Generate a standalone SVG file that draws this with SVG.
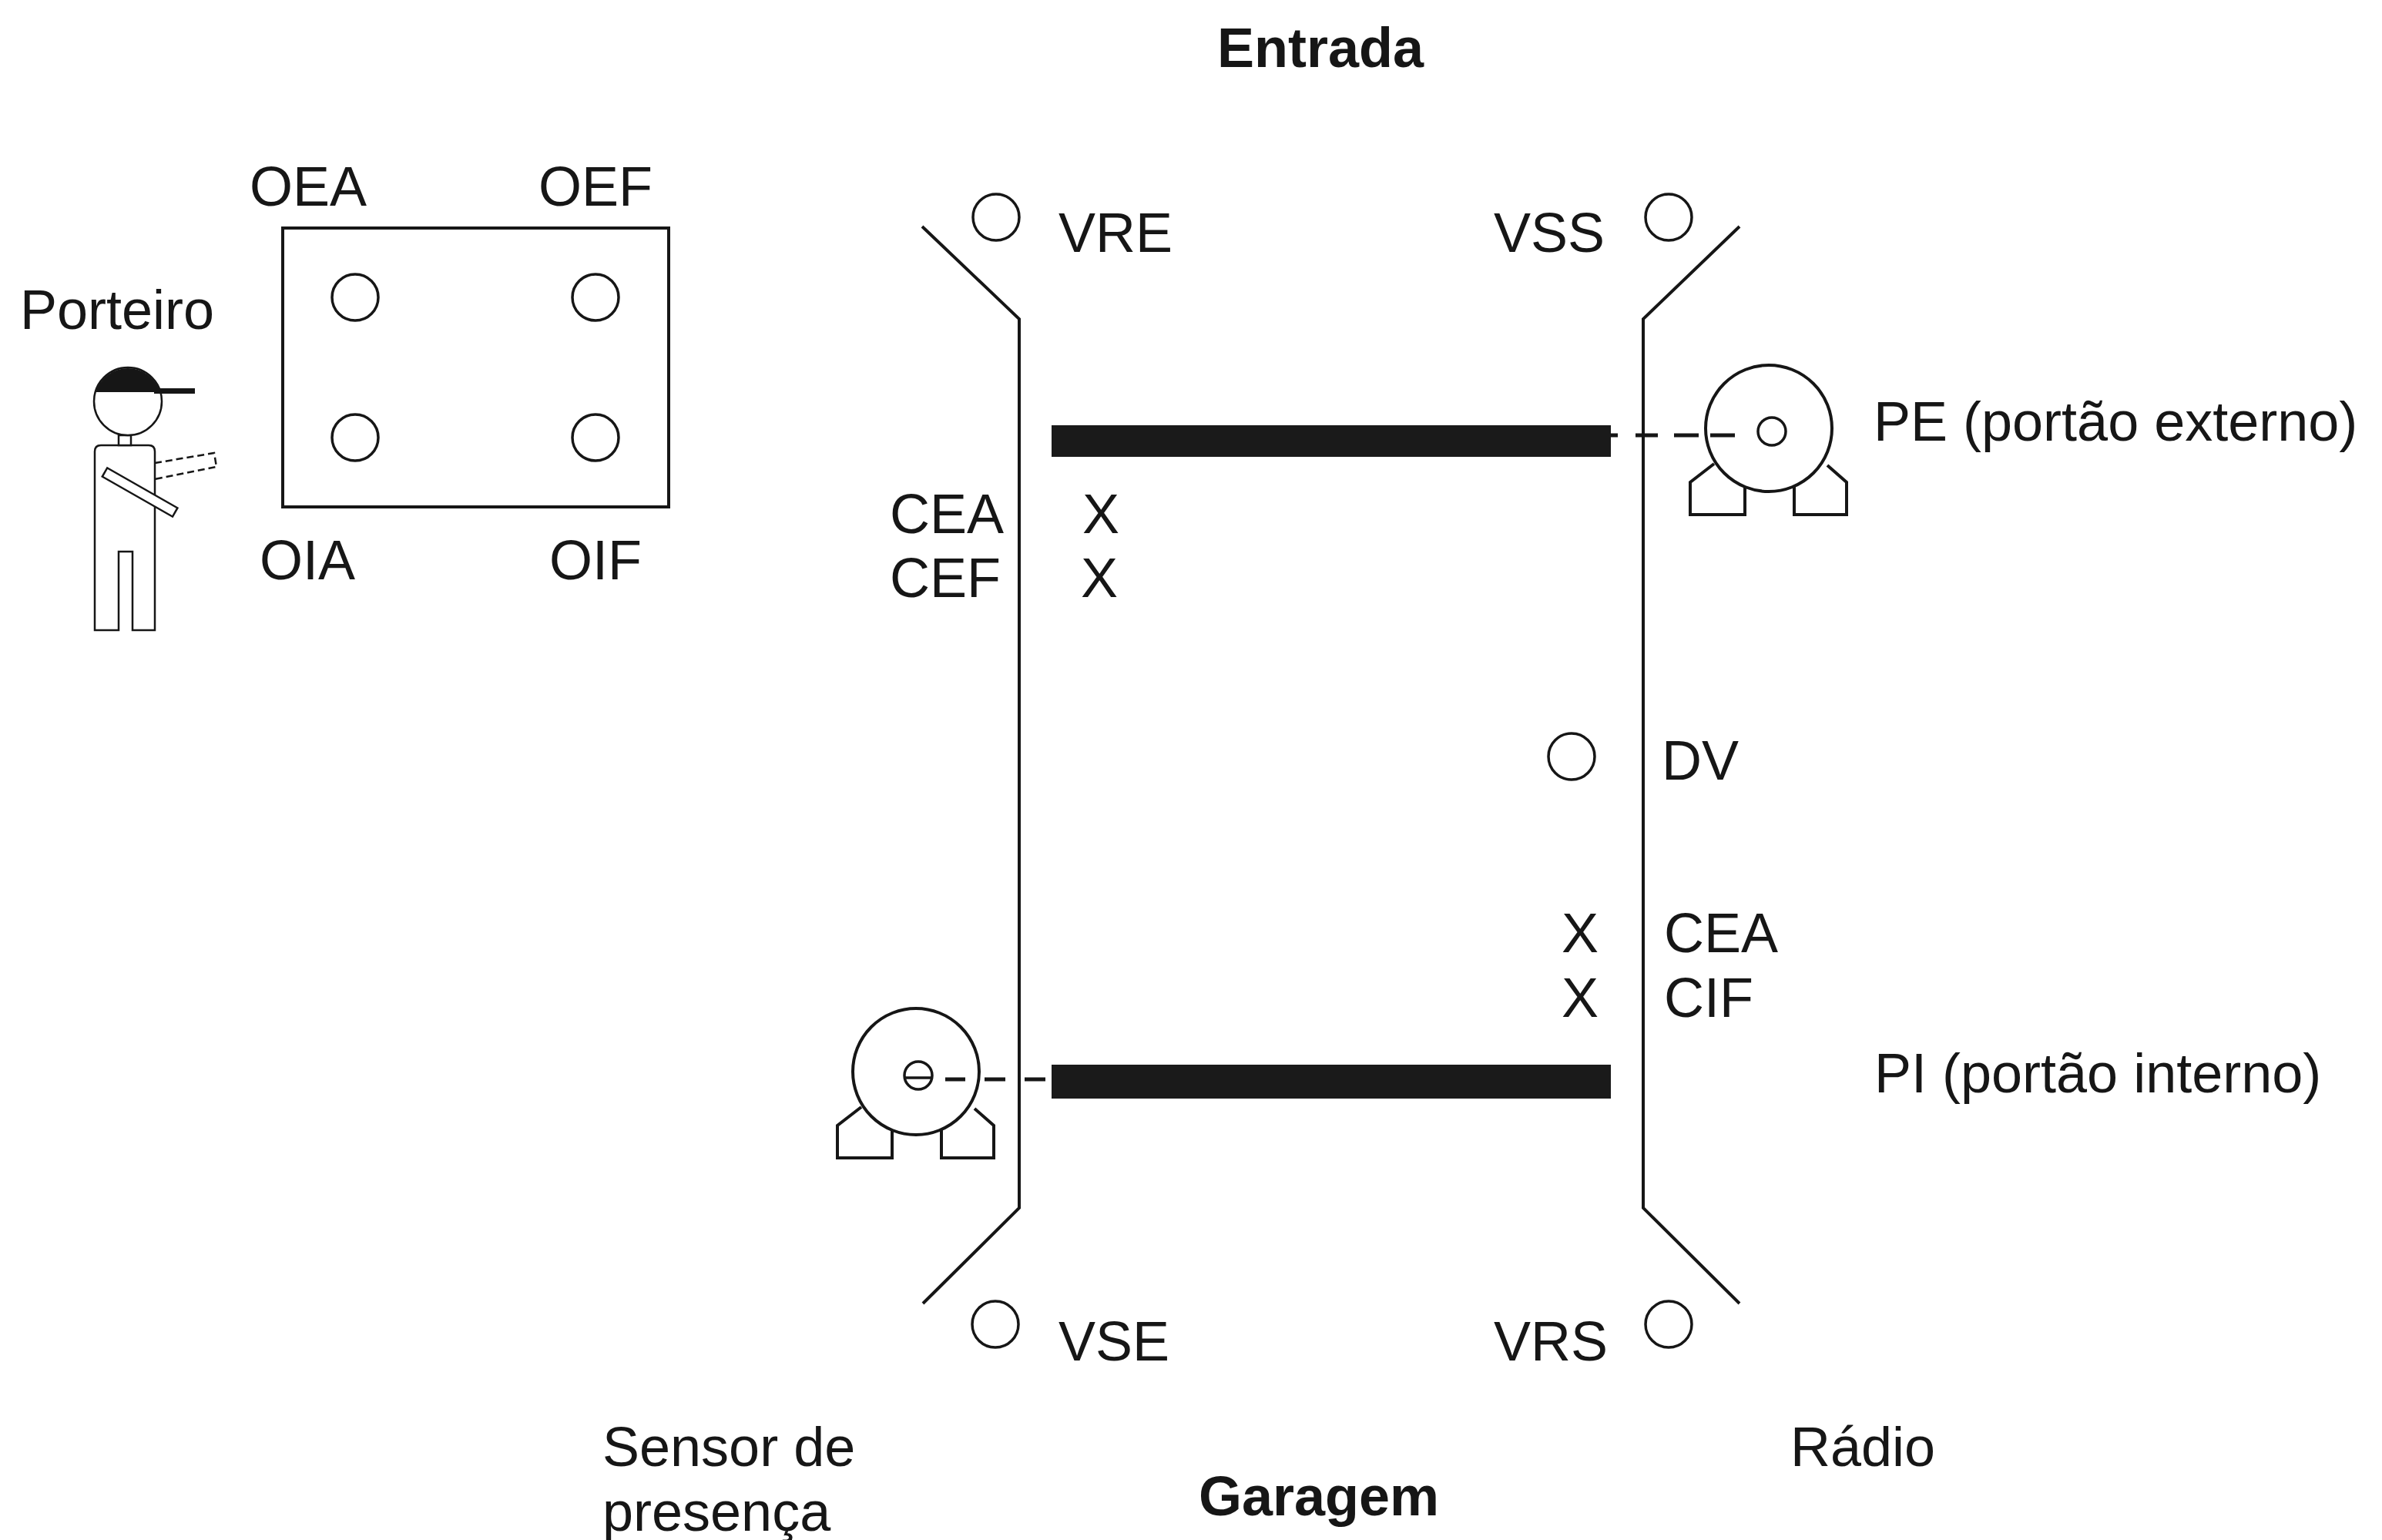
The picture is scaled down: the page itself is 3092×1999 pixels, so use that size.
<svg xmlns="http://www.w3.org/2000/svg" width="3092" height="1999" viewBox="0 0 3092 1999">
  <style>
    text { font-family: "Liberation Sans", Arial, sans-serif; font-size: 72px; fill: #161616; }
    .title { font-weight: bold; text-anchor: middle; }
    .mid { text-anchor: middle; }
    .line { fill: none; stroke: #161616; stroke-width: 4; stroke-linejoin: miter; }
    .lamp { fill: none; stroke: #161616; stroke-width: 3.5; }
    .fig { fill: #fff; stroke: #161616; stroke-width: 2.5; }
    .bar { fill: #1a1a1a; }
    .link { fill: none; stroke: #161616; stroke-width: 5; }
  </style>
  <defs>
    <!-- motor symbol: housing, shaft and two feet, centred on 0,0 -->
    <g id="motor">
      <path class="line" d="M-71,46 L-102,70 L-102,112 L-31,112 L-31,76"/>
      <path class="line" d="M33,76 L33,112 L101,112 L101,70 L76,48"/>
      <circle class="line" cx="0" cy="0" r="82" fill="#fff"/>
    </g>
  </defs>
  <rect width="3092" height="1999" fill="#fff"/>

  <text class="title" x="1714" y="87">Entrada</text>
  <text class="title" x="1712" y="1967">Garagem</text>

  <!-- gatekeeper figure -->
  <g id="porteiro">
    <text x="26" y="427">Porteiro</text>
    <path d="M201,601 L278,588 L281,606 L201,622" fill="#fff" stroke="#161616" stroke-width="2.5" stroke-dasharray="9 5"/>
    <path class="fig" d="M123,818 L123,586 Q123,578 131,578 L193,578 Q201,578 201,586 L201,818 L172,818 L172,716 L154,716 L154,818 Z"/>
    <rect class="fig" x="154" y="565" width="16" height="13"/>
    <circle class="fig" cx="166" cy="521" r="44"/>
    <path d="M124,509 A44,44 0 0 1 208,509 Z" fill="#161616"/>
    <rect x="200" y="504" width="53" height="7" fill="#161616"/>
    <rect class="fig" x="0" y="-6.5" width="105" height="13" transform="translate(136,613) rotate(29.7)"/>
  </g>

  <!-- control panel -->
  <g id="painel">
    <rect class="line" x="367" y="296" width="501" height="362"/>
    <circle class="lamp" cx="461" cy="386" r="30"/>
    <circle class="lamp" cx="773" cy="386" r="30"/>
    <circle class="lamp" cx="461" cy="568" r="30"/>
    <circle class="lamp" cx="773" cy="568" r="30"/>
    <text class="mid" x="400" y="267">OEA</text>
    <text class="mid" x="773" y="267">OEF</text>
    <text class="mid" x="399" y="752">OIA</text>
    <text class="mid" x="773" y="752">OIF</text>
  </g>

  <!-- garage walls -->
  <g id="parede-esquerda">
    <path class="line" d="M1197,294 L1323,414 L1323,1568 L1198,1692"/>
  </g>
  <g id="parede-direita">
    <path class="line" d="M2258,294 L2133,414 L2133,1568 L2258,1692"/>
  </g>

  <!-- signal lights -->
  <g id="VRE">
    <circle class="lamp" cx="1293" cy="282" r="30"/>
    <text x="1374" y="327">VRE</text>
  </g>
  <g id="VSS">
    <circle class="lamp" cx="2166" cy="282" r="30"/>
    <text x="1939" y="327">VSS</text>
  </g>
  <g id="VSE">
    <circle class="lamp" cx="1292" cy="1719" r="30"/>
    <text x="1374" y="1766">VSE</text>
  </g>
  <g id="VRS">
    <circle class="lamp" cx="2166" cy="1719" r="30"/>
    <text x="1939" y="1766">VRS</text>
  </g>
  <g id="DV">
    <circle class="lamp" cx="2040" cy="982" r="30"/>
    <text x="2157" y="1012">DV</text>
  </g>

  <!-- gate sensors -->
  <g id="sensores-PE">
    <text x="1155" y="692">CEA</text>
    <text class="mid" x="1429" y="692">X</text>
    <text x="1155" y="775">CEF</text>
    <text class="mid" x="1427" y="775">X</text>
  </g>
  <g id="sensores-PI">
    <text class="mid" x="2051" y="1236">X</text>
    <text x="2160" y="1236">CEA</text>
    <text class="mid" x="2051" y="1320">X</text>
    <text x="2160" y="1320">CIF</text>
  </g>

  <!-- outer gate and its motor -->
  <g id="PE">
    <rect class="bar" x="1365" y="552" width="726" height="41"/>
    <use href="#motor" x="2296" y="556"/>
    <circle class="lamp" cx="2300" cy="560" r="18"/>
    <text x="2432" y="572">PE (portão externo)</text>
  </g>

  <!-- inner gate and its motor -->
  <g id="PI">
    <rect class="bar" x="1365" y="1382" width="726" height="44"/>
    <use href="#motor" x="1189" y="1391"/>
    <circle class="lamp" cx="1192" cy="1396" r="18"/>
    <line x1="1174" y1="1399" x2="1210" y2="1399" stroke="#161616" stroke-width="3.5"/>
    <text x="2433" y="1418">PI (portão interno)</text>
  </g>

  <g id="labels">
    <text x="782" y="1903">Sensor de</text>
    <text x="782" y="1987">presença</text>
    <text x="2324" y="1903">Rádio</text>
  </g>

  <!-- motor-to-gate drive links -->
  <g id="connectors">
    <path class="link" d="M2091,565 H2100 M2123,565 H2152 M2173,565 H2205 M2220,565 H2252"/>
    <path class="link" d="M1227,1401 H1253 M1278,1401 H1305 M1330,1401 H1357"/>
  </g>
</svg>
